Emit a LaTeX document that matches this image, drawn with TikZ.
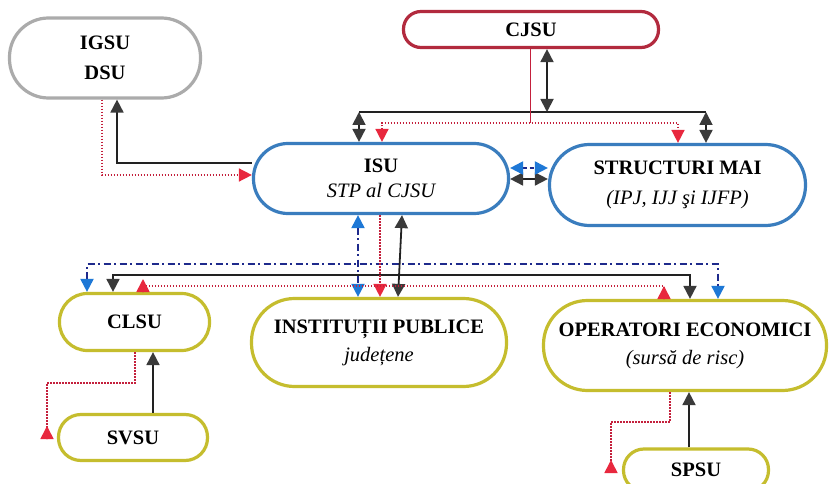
\documentclass[tikz,border=0pt]{standalone}
\usepackage{fontspec}
\setmainfont{Liberation Serif}
\usetikzlibrary{arrows.meta}
\definecolor{cgray}{HTML}{ABABAB}
\definecolor{cred}{HTML}{B22A3E}
\definecolor{cblue}{HTML}{3A7DBE}
\definecolor{cyel}{HTML}{C5BD2E}
\definecolor{lblk}{HTML}{222222}
\definecolor{tblk}{HTML}{3A3A3A}
\definecolor{lred}{HTML}{C4203C}
\definecolor{tred}{HTML}{E8283E}
\definecolor{lnavy}{HTML}{1E2A8C}
\definecolor{tblue}{HTML}{1E78D6}
\newcommand\itl[1]{{\fontsize{20.5}{24}\selectfont\mdseries\itshape #1}}
\tikzset{
  blktip/.tip={Triangle[length=13pt,width=13pt,color=tblk]},
  redtip/.tip={Triangle[length=13pt,width=13pt,color=tred]},
  blutip/.tip={Triangle[length=13pt,width=13pt,color=tblue]},
  box/.style={draw, line width=3.2pt, fill=white, inner sep=0pt, align=center,
    font=\fontsize{20.5}{24}\selectfont\bfseries},
  blkline/.style={draw=lblk, line width=1.8pt},
  redline/.style={draw=lred, line width=1.6pt, dash pattern=on 1.6pt off 1.4pt},
  bluline/.style={draw=lnavy, line width=2pt, dash pattern=on 7pt off 3.5pt on 2pt off 3.5pt},
}
\begin{document}
\begin{tikzpicture}[x=1pt,y=-1pt]
\fill[white] (0,0) rectangle (830,484);
\useasboundingbox (0,0) rectangle (830,484);

% nodes
\node[box, draw=cgray, minimum width=191pt, minimum height=80pt, rounded corners=39pt] (IGSU) at (105,58) {IGSU\\[6pt]DSU};
\node[box, draw=cred, minimum width=255pt, minimum height=36pt, rounded corners=17.5pt] (CJSU) at (531,29.5) {CJSU};
\node[box, draw=cblue, minimum width=255pt, minimum height=70pt, rounded corners=34.5pt] (ISU) at (381,178.5) {ISU\\[1pt]\itl{STP al CJSU}};
\node[box, draw=cblue, minimum width=256pt, minimum height=81pt, rounded corners=40pt] (STR) at (677.5,185) {STRUCTURI MAI\\[6pt]\itl{(IPJ, IJJ şi IJFP)}};
\node[box, draw=cyel, minimum width=150pt, minimum height=57pt, rounded corners=28pt] (CLSU) at (134.5,322) {CLSU};
\node[box, draw=cyel, minimum width=255pt, minimum height=88pt, rounded corners=43pt] (INS) at (379,342.5) {INSTITUȚII PUBLICE\\[4pt]\itl{județene}};
\node[box, draw=cyel, minimum width=283pt, minimum height=90pt, rounded corners=44pt] (OPE) at (685,345.5) {OPERATORI ECONOMICI\\[4pt]\itl{(sursă de risc)}};
\node[box, draw=cyel, minimum width=149pt, minimum height=46pt, rounded corners=22.5pt] (SVSU) at (133,437.5) {SVSU};
\node[box, draw=cyel, minimum width=145pt, minimum height=42pt, rounded corners=20.5pt] (SPSU) at (696,470) {SPSU};

% IGSU <-> ISU
\draw[blkline,-{blktip}] (ISU.west |- 0,163) -| (IGSU.south -| 117,0);
\draw[redline,-{redtip}] (IGSU.south -| 102,0) |- (ISU.west |- 0,175);

% CJSU bus
\coordinate (bL) at (359,112);
\coordinate (bC) at (547,112);
\coordinate (bR) at (706,112);
\draw[blkline] (bL) -- (bR);
\draw[blkline,{blktip}-{blktip}] (CJSU.south -| bC) -- (bC);
\draw[blkline,{blktip}-{blktip}] (bL) -- (ISU.north -| bL);
\draw[blkline,{blktip}-{blktip}] (bR) -- (STR.north -| bR);
\draw[draw=lred, line width=1pt] (CJSU.south -| 530,0) -- (530,123);
\draw[redline,{redtip}-{redtip}] (ISU.north -| 382,0) |- (678,123) -- (STR.north -| 678,0);

% ISU <-> STRUCTURI MAI
\draw[blkline,{blktip}-{blktip}] (ISU.east |- 0,179) -- (STR.west |- 0,179);
\draw[bluline,dash pattern=on 4pt off 3pt,{blutip}-{blutip}] (ISU.east |- 0,168) -- (STR.west |- 0,168);

% ISU down to the lower row
\draw[bluline,{blutip}-{blutip}] (ISU.south -| 358,0) -- (INS.north -| 358,0);
\draw[bluline,{blutip}-{blutip}] (CLSU.north -| 87,0) -- (87,264) -- (718,264) -- (OPE.north -| 718,0);
\draw[blkline,{blktip}-{blktip}] (ISU.south -| 402,0) -- (INS.north -| 398,0);
\draw[blkline,{blktip}-{blktip}] (CLSU.north -| 113,0) -- (113,275) -- (690,275) -- (OPE.north -| 690,0);
\draw[redline,-{redtip}] (ISU.south -| 380,0) -- (INS.north -| 380,0);
\draw[redline,{redtip}-{redtip}] (143,279) -- (CLSU.north -| 143,0) -- (143,286) -- (664,286) -- (OPE.north -| 664,0) -- (664,286);

% local levels
\draw[blkline,-{blktip}] (SVSU.north -| 153,0) -- (CLSU.south -| 153,0);
\draw[redline,-{redtip}] (CLSU.south -| 135,0) |- (47,383) -- (47,439) -- (47,426);
\draw[blkline,-{blktip}] (SPSU.north -| 689,0) -- (OPE.south -| 689,0);
\draw[redline,-{redtip}] (OPE.south -| 670,0) |- (611,422) -- (611,473) -- (611,460);
\end{tikzpicture}
\end{document}
